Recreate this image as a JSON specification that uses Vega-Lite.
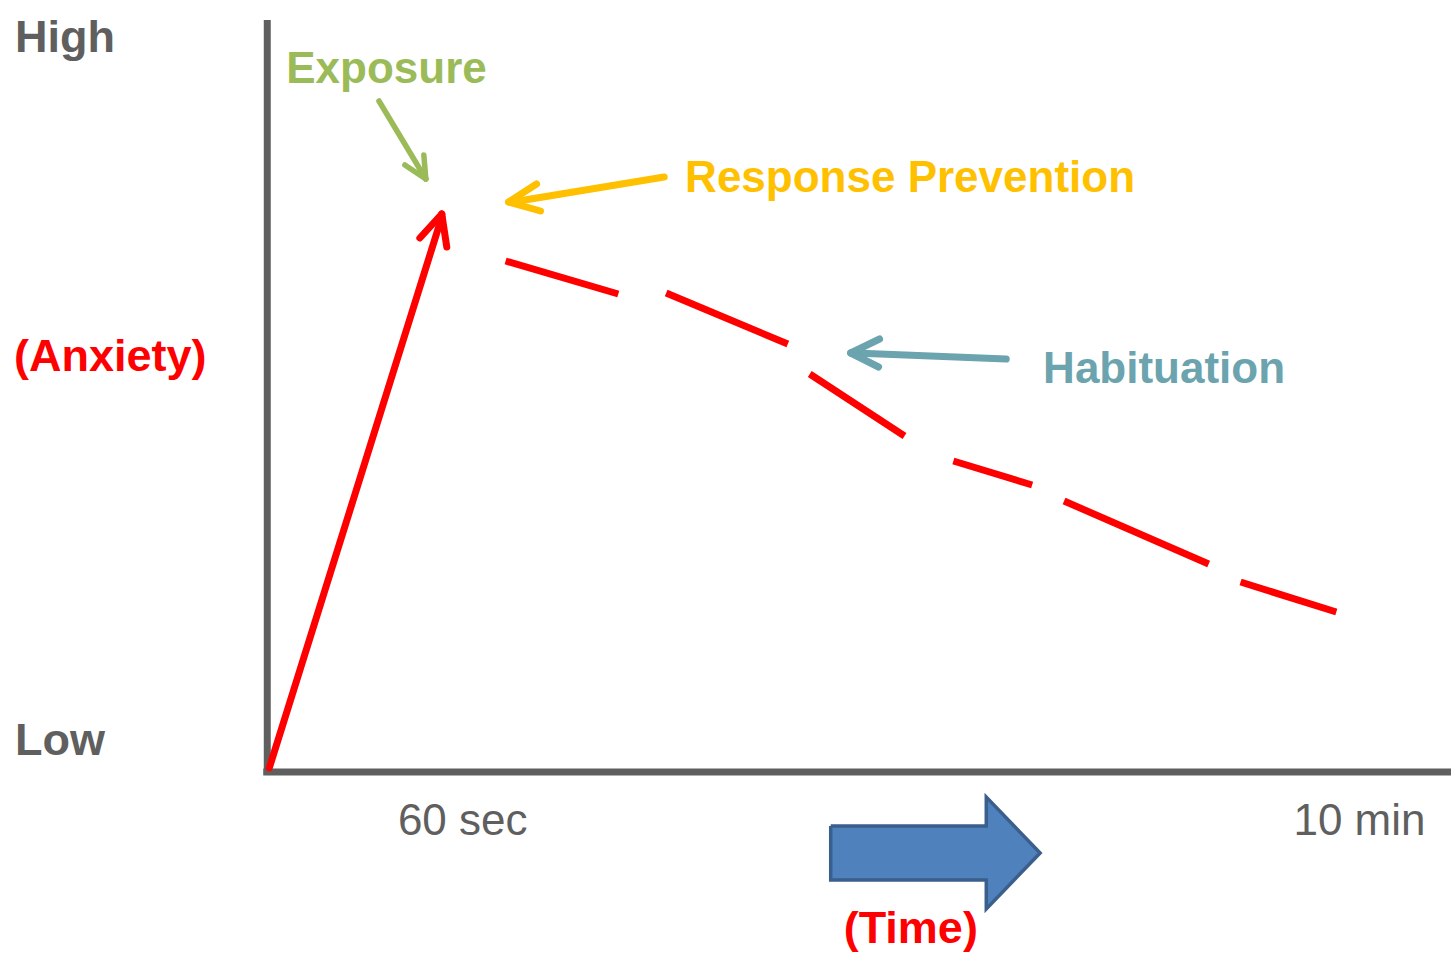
{
  "$schema": "https://vega.github.io/schema/vega-lite/v6.json",
  "width": 1455,
  "height": 954,
  "autosize": {"type": "fit", "contains": "padding"},
  "padding": 0,
  "background": "white",
  "config": {"view": {"stroke": null}},
  "datasets": {
    "axes": [
      {"x": 268, "y": 20, "x2": 268, "y2": 775},
      {"x": 264, "y": 772, "x2": 1455, "y2": 772}
    ],
    "rise": [
      {"x": 270, "y": 768, "x2": 443, "y2": 217},
      {"x": 443, "y": 214, "x2": 421, "y2": 238},
      {"x": 443, "y": 214, "x2": 448, "y2": 247}
    ],
    "decline": [
      {"x": 507, "y": 261, "x2": 620, "y2": 294},
      {"x": 668, "y": 293, "x2": 790, "y2": 344},
      {"x": 812, "y": 374, "x2": 907, "y2": 436},
      {"x": 956, "y": 461, "x2": 1035, "y2": 485},
      {"x": 1067, "y": 501, "x2": 1212, "y2": 564},
      {"x": 1244, "y": 582, "x2": 1340, "y2": 612}
    ],
    "exposureArrow": [
      {"x": 380, "y": 101, "x2": 427, "y2": 179},
      {"x": 427, "y": 179, "x2": 406, "y2": 165},
      {"x": 427, "y": 179, "x2": 425, "y2": 155}
    ],
    "rpArrow": [
      {"x": 666, "y": 177, "x2": 514, "y2": 202},
      {"x": 510, "y": 202, "x2": 538, "y2": 184},
      {"x": 510, "y": 202, "x2": 542, "y2": 211}
    ],
    "habArrow": [
      {"x": 1009, "y": 359, "x2": 857, "y2": 353},
      {"x": 853, "y": 353, "x2": 882, "y2": 339},
      {"x": 853, "y": 353, "x2": 881, "y2": 367}
    ],
    "timeBody": [{"x": 833, "x2": 990, "y": 826, "y2": 880}],
    "timeHead": [
      {"x": 989, "y": 797, "y2": 909},
      {"x": 1043, "y": 853, "y2": 853}
    ],
    "timeOutline": [
      {"i": 0, "x": 833, "y": 826},
      {"i": 1, "x": 989, "y": 826},
      {"i": 2, "x": 989, "y": 797},
      {"i": 3, "x": 1043, "y": 853},
      {"i": 4, "x": 989, "y": 909},
      {"i": 5, "x": 989, "y": 880},
      {"i": 6, "x": 833, "y": 880},
      {"i": 7, "x": 833, "y": 826}
    ]
  },
  "encoding": {
    "x": {"field": "x", "type": "quantitative", "scale": {"domain": [0, 1455], "nice": false, "zero": false}, "axis": null},
    "y": {"field": "y", "type": "quantitative", "scale": {"domain": [0, 954], "nice": false, "zero": false, "reverse": true}, "axis": null}
  },
  "layer": [
    {
      "data": {"name": "axes"},
      "mark": {"type": "rule", "color": "#5f5f5f", "strokeWidth": 7},
      "encoding": {"x2": {"field": "x2"}, "y2": {"field": "y2"}}
    },
    {
      "data": {"name": "rise"},
      "mark": {"type": "rule", "color": "#ff0000", "strokeWidth": 7, "strokeCap": "round"},
      "encoding": {"x2": {"field": "x2"}, "y2": {"field": "y2"}}
    },
    {
      "data": {"name": "decline"},
      "mark": {"type": "rule", "color": "#ff0000", "strokeWidth": 7, "strokeCap": "butt"},
      "encoding": {"x2": {"field": "x2"}, "y2": {"field": "y2"}}
    },
    {
      "data": {"name": "exposureArrow"},
      "mark": {"type": "rule", "color": "#9bbb59", "strokeWidth": 5.5, "strokeCap": "round"},
      "encoding": {"x2": {"field": "x2"}, "y2": {"field": "y2"}}
    },
    {
      "data": {"name": "rpArrow"},
      "mark": {"type": "rule", "color": "#ffc000", "strokeWidth": 7, "strokeCap": "round"},
      "encoding": {"x2": {"field": "x2"}, "y2": {"field": "y2"}}
    },
    {
      "data": {"name": "habArrow"},
      "mark": {"type": "rule", "color": "#6ba4ae", "strokeWidth": 7, "strokeCap": "round"},
      "encoding": {"x2": {"field": "x2"}, "y2": {"field": "y2"}}
    },
    {
      "data": {"name": "timeBody"},
      "mark": {"type": "rect", "color": "#4f81bd"},
      "encoding": {"x2": {"field": "x2"}, "y2": {"field": "y2"}}
    },
    {
      "data": {"name": "timeHead"},
      "mark": {"type": "area", "color": "#4f81bd", "orient": "vertical"},
      "encoding": {"y2": {"field": "y2"}}
    },
    {
      "data": {"name": "timeOutline"},
      "mark": {"type": "line", "color": "#3a5f8c", "strokeWidth": 3.5, "strokeJoin": "miter"},
      "encoding": {"order": {"field": "i", "type": "quantitative"}}
    },
    {
      "data": {"values": [{"label": "High", "x": 15, "y": 52}, {"label": "Low", "x": 15, "y": 755}]},
      "mark": {"type": "text", "align": "left", "baseline": "alphabetic", "font": "Liberation Sans, Arial", "fontWeight": "bold", "fontSize": 45, "color": "#5f5f5f"},
      "encoding": {"text": {"field": "label"}}
    },
    {
      "data": {"values": [{"label": "(Anxiety)", "x": 14, "y": 371}, {"label": "(Time)", "x": 846, "y": 943}]},
      "mark": {"type": "text", "align": "left", "baseline": "alphabetic", "font": "Liberation Sans, Arial", "fontWeight": "bold", "fontSize": 45, "color": "#ff0000"},
      "encoding": {"text": {"field": "label"}}
    },
    {
      "data": {"values": [{"label": "Exposure", "x": 287, "y": 83}]},
      "mark": {"type": "text", "align": "left", "baseline": "alphabetic", "font": "Liberation Sans, Arial", "fontWeight": "bold", "fontSize": 44, "color": "#9bbb59"},
      "encoding": {"text": {"field": "label"}}
    },
    {
      "data": {"values": [{"label": "Response Prevention", "x": 687, "y": 192}]},
      "mark": {"type": "text", "align": "left", "baseline": "alphabetic", "font": "Liberation Sans, Arial", "fontWeight": "bold", "fontSize": 44, "color": "#ffc000"},
      "encoding": {"text": {"field": "label"}}
    },
    {
      "data": {"values": [{"label": "Habituation", "x": 1046, "y": 383}]},
      "mark": {"type": "text", "align": "left", "baseline": "alphabetic", "font": "Liberation Sans, Arial", "fontWeight": "bold", "fontSize": 44, "color": "#6ba4ae"},
      "encoding": {"text": {"field": "label"}}
    },
    {
      "data": {"values": [{"label": "60 sec", "x": 399, "y": 835}, {"label": "10 min", "x": 1297, "y": 835}]},
      "mark": {"type": "text", "align": "left", "baseline": "alphabetic", "font": "Liberation Sans, Arial", "fontWeight": "normal", "fontSize": 44, "color": "#5f5f5f"},
      "encoding": {"text": {"field": "label"}}
    }
  ]
}
